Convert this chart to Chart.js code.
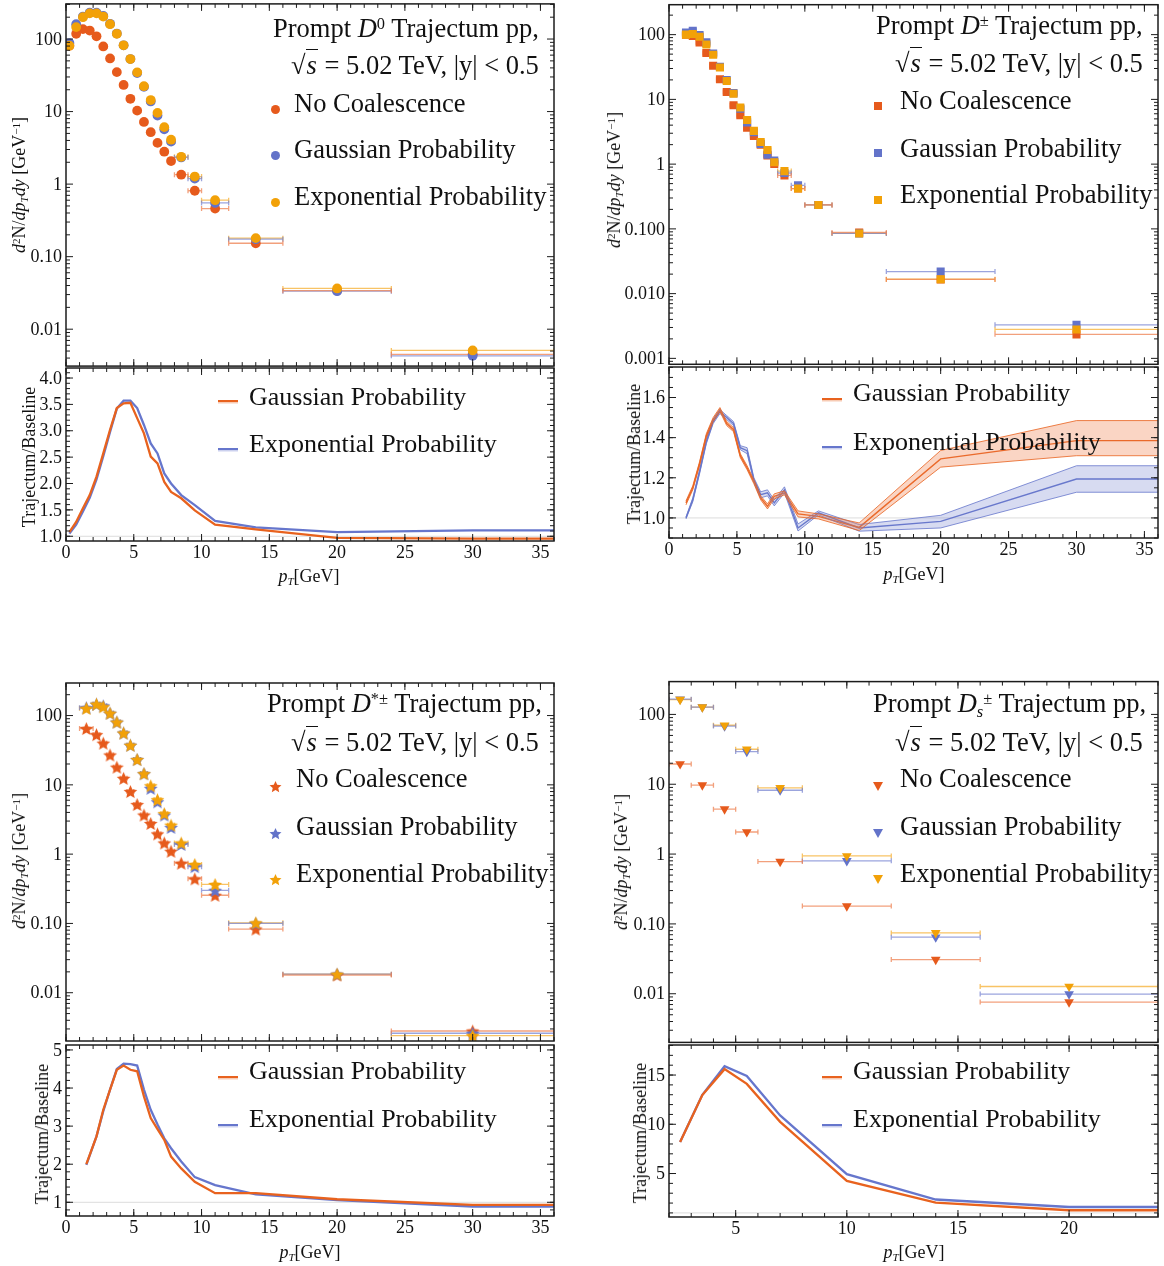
<!DOCTYPE html>
<html>
<head>
<meta charset="utf-8">
<script src="https://cdn.jsdelivr.net/npm/chart.js@4.4.1/dist/chart.umd.min.js"></script>
<style>
  body { margin: 0; background: #fff; }
  #root { position: relative; width: 1164px; height: 1266px; overflow: hidden;
          font-family: "Liberation Serif", serif; color: #111; background: #fff; }
  canvas { position: absolute; }
  .t { position: absolute; white-space: nowrap; }
  .t sup { font-size: 0.62em; vertical-align: 0.48em; line-height: 0; }
  .t sub { font-size: 0.62em; vertical-align: -0.28em; line-height: 0; }
  .ov { border-top: 1.5px solid #111; padding: 0 1px; }
  .mk { position: absolute; }
</style>
</head>
<body>
<div id="root"></div>
<script>
// ---------- data ----------
// Prompt D0
const d0Pt   = [0.25,0.75,1.25,1.75,2.25,2.75,3.25,3.75,4.25,4.75,5.25,5.75,6.25,6.75,7.25,7.75,8.5,9.5,11,14,20,30];
const d0PtLo = [0,0.5,1,1.5,2,2.5,3,3.5,4,4.5,5,5.5,6,6.5,7,7.5,8,9,10,12,16,24];
const d0PtHi = [0.5,1,1.5,2,2.5,3,3.5,4,4.5,5,5.5,6,6.5,7,7.5,8,9,10,12,16,24,36];
const d0NoCoal = [81,118,137,131,109,79,54,35,23.3,15,10.3,7.2,5.2,3.7,2.8,2.08,1.35,0.81,0.46,0.153,0.034,0.0045];
const d0Gauss  = [88,160,204,231,231,208,162,119,82,53,34,21.9,13.8,8.8,5.7,3.85,2.33,1.19,0.55,0.174,0.0334,0.0043];
const d0Expo   = [81,146,200,226,226,204,160,118,82,53,34.7,22.4,14.4,9.6,6.1,4.1,2.38,1.27,0.6,0.18,0.0365,0.0051];
const d0RatioPt    = [0.25,0.75,1.25,1.75,2.25,2.75,3.25,3.75,4.25,4.75,5.25,5.75,6.25,6.75,7.25,7.75,8.5,9.5,11,14,20,30,36];
const d0RatioGauss = [1.08,1.27,1.53,1.78,2.13,2.57,3.02,3.43,3.52,3.53,3.24,2.95,2.51,2.38,2.03,1.84,1.72,1.49,1.22,1.13,0.97,0.955,0.955];
const d0RatioExpo  = [1.05,1.22,1.47,1.73,2.08,2.52,2.98,3.42,3.57,3.57,3.43,3.11,2.76,2.57,2.19,2.0,1.78,1.59,1.29,1.17,1.08,1.11,1.11];

// Prompt D+-
const dpPt   = [1.25,1.75,2.25,2.75,3.25,3.75,4.25,4.75,5.25,5.75,6.25,6.75,7.25,7.75,8.5,9.5,11,14,20,30];
const dpPtLo = [1,1.5,2,2.5,3,3.5,4,4.5,5,5.5,6,6.5,7,7.5,8,9,10,12,16,24];
const dpPtHi = [1.5,2,2.5,3,3.5,4,4.5,5,5.5,6,6.5,7,7.5,8,9,10,12,16,24,36];
const dpNoCoal = [100,95,76,52,33,20.4,13,8.1,5.7,3.66,2.73,2.0,1.36,1.01,0.67,0.42,0.234,0.088,0.0166,0.00235];
const dpGauss  = [108,115,99,76,51,31.8,19.9,12.5,7.2,4.4,3.1,2.05,1.4,1.14,0.73,0.47,0.234,0.085,0.0219,0.0033];
const dpExpo   = [100,102,93,70.5,49,31,19.2,12.2,7.5,4.8,3.26,2.2,1.65,1.07,0.78,0.42,0.234,0.085,0.0167,0.0028];
const dpRatioPt      = [1.25,1.75,2.25,2.75,3.25,3.75,4.25,4.75,5.25,5.75,6.25,6.75,7.25,7.75,8.5,9.5,11,14,20,30,36];
const dpRatioGauss   = [1.075,1.15,1.27,1.41,1.49,1.54,1.47,1.44,1.31,1.25,1.18,1.10,1.058,1.108,1.125,1.02,1.008,0.953,1.294,1.385,1.385];
const dpRatioGaussLo = [1.065,1.14,1.26,1.40,1.48,1.53,1.46,1.43,1.30,1.24,1.17,1.09,1.045,1.095,1.115,1.005,0.995,0.937,1.253,1.31,1.31];
const dpRatioGaussHi = [1.085,1.16,1.28,1.42,1.50,1.55,1.48,1.45,1.32,1.26,1.19,1.11,1.07,1.12,1.135,1.035,1.02,0.975,1.336,1.485,1.485];
const dpRatioExpo    = [1.0,1.09,1.23,1.38,1.48,1.53,1.50,1.47,1.35,1.335,1.19,1.116,1.125,1.075,1.14,0.95,1.025,0.95,0.983,1.194,1.194];
const dpRatioExpoLo  = [0.995,1.08,1.22,1.37,1.47,1.52,1.49,1.46,1.34,1.32,1.18,1.10,1.11,1.06,1.125,0.935,1.015,0.934,0.95,1.128,1.128];
const dpRatioExpoHi  = [1.005,1.10,1.24,1.39,1.49,1.54,1.51,1.48,1.36,1.35,1.20,1.13,1.14,1.09,1.155,0.97,1.035,0.967,1.013,1.26,1.26];

// Prompt D*+-
const dstPt   = [1.5,2.25,2.75,3.25,3.75,4.25,4.75,5.25,5.75,6.25,6.75,7.25,7.75,8.5,9.5,11,14,20,30];
const dstPtLo = [1,2,2.5,3,3.5,4,4.5,5,5.5,6,6.5,7,7.5,8,9,10,12,16,24];
const dstPtHi = [2,2.5,3,3.5,4,4.5,5,5.5,6,6.5,7,7.5,8,9,10,12,16,24,36];
const dstNoCoal = [65,53,40,27,18,12.4,8.0,5.2,3.67,2.77,1.96,1.45,1.1,0.74,0.44,0.255,0.083,0.018,0.0028];
const dstGauss  = [130,146,138,108,80.5,56,37.3,23.2,14.5,8.9,5.7,3.67,2.43,1.38,0.66,0.30,0.10,0.0185,0.0026];
const dstExpo   = [127,146,134,108,80.5,56,37.3,23.2,14.5,9.7,6.1,3.84,2.62,1.45,0.71,0.365,0.102,0.0185,0.0024];
const dstRatioPt    = [1.5,2.25,2.75,3.25,3.75,4.25,4.75,5.25,5.75,6.25,6.75,7.25,7.75,8.5,9.5,11,14,20,30,36];
const dstRatioGauss = [2.0,2.73,3.43,3.96,4.48,4.59,4.48,4.44,3.78,3.21,2.92,2.64,2.2,1.89,1.54,1.24,1.24,1.08,0.93,0.93];
const dstRatioExpo  = [1.98,2.73,3.39,3.96,4.5,4.64,4.63,4.59,3.96,3.43,3.04,2.68,2.42,2.07,1.66,1.45,1.21,1.06,0.89,0.89];

// Prompt Ds+-
const dsPt   = [2.5,3.5,4.5,5.5,7,10,14,20];
const dsPtLo = [2,3,4,5,6,8,12,16];
const dsPtHi = [3,4,5,6,8,12,16,24];
const dsNoCoal = [19.5,9.7,4.4,2.07,0.78,0.18,0.0308,0.0076];
const dsGauss  = [165,127,68,29.4,8.2,0.8,0.0645,0.0099];
const dsExpo   = [163,127,70,31.7,8.9,0.94,0.0743,0.0127];
const dsRatioPt    = [2.5,3.5,4.5,5.5,7,10,14,20,24];
const dsRatioGauss = [8.2,12.97,15.6,14.1,10.25,4.25,2.05,1.27,1.27];
const dsRatioExpo  = [8.2,13.0,15.9,14.9,10.9,4.93,2.36,1.6,1.6];

// ticks
const xTicksWide  = [0,5,10,15,20,25,30,35];
const xLabelsWide = ['0','5','10','15','20','25','30','35'];
const xTicksDs  = [5,10,15,20];
const xLabelsDs = ['5','10','15','20'];
const yTicksTwo  = [0.01,0.1,1,10,100];
const yLabelsTwo = ['0.01','0.10','1','10','100'];
const yTicksDp  = [0.001,0.01,0.1,1,10,100];
const yLabelsDp = ['0.001','0.010','0.100','1','10','100'];
const rTicksD0  = [1,1.5,2,2.5,3,3.5,4];
const rLabelsD0 = ['1.0','1.5','2.0','2.5','3.0','3.5','4.0'];
const rTicksDp  = [1,1.2,1.4,1.6];
const rLabelsDp = ['1.0','1.2','1.4','1.6'];
const rTicksDst  = [1,2,3,4,5];
const rLabelsDst = ['1','2','3','4','5'];
const rTicksDs  = [5,10,15];
const rLabelsDs = ['5','10','15'];

// ---------- style ----------
const RED = '#E65A1C', BLUE = '#6373C9', GOLD = '#F2A108';
const RED_BAR = 'rgba(238,128,80,0.75)', BLUE_BAR = 'rgba(112,126,206,0.7)', GOLD_BAR = 'rgba(245,175,50,0.75)';
const LINE_GAUSS = '#E8621E', LINE_EXPO = '#6676CC';
const FRAME = '#1c1c1c';
const FONT = '"Liberation Serif", serif';

const root = document.getElementById('root');

function range(a, b, step) {
  const out = [];
  for (let v = a; v <= b + 1e-9; v += step) out.push(Math.round(v * 1000) / 1000);
  return out;
}
function logMinor(min, max) {
  const out = [];
  for (let e = Math.floor(Math.log10(min)); e <= Math.ceil(Math.log10(max)); e++)
    for (let k = 2; k <= 9; k++) {
      const v = k * Math.pow(10, e);
      if (v >= min && v <= max) out.push(v);
    }
  return out;
}

function starImage(color, r) {
  const c = document.createElement('canvas');
  const s = Math.ceil(r * 2 + 2);
  c.width = s; c.height = s;
  const g = c.getContext('2d');
  g.beginPath();
  for (let i = 0; i < 10; i++) {
    const rad = i % 2 ? r * 0.46 : r;
    const ang = -Math.PI / 2 + i * Math.PI / 5;
    g.lineTo(s / 2 + rad * Math.cos(ang), s / 2 + 0.7 + rad * Math.sin(ang));
  }
  g.closePath();
  g.fillStyle = color;
  g.fill();
  return c;
}

const SHAPES = {
  circle: { radius: 4.9, style: () => 'circle', rot: 0 },
  square: { radius: 5.7, style: () => 'rect', rot: 0 },
  star:   { radius: 7,   style: c => starImage(c, 7.2), rot: 0 },
  tri:    { radius: 5.6, style: () => 'triangle', rot: 180 }
};

// frame, ticks, labels, error bars, reference line
const framePlugin = {
  id: 'frame',
  beforeDatasetsDraw(chart, args, o) {
    const { ctx, chartArea: a } = chart;
    const xs = chart.scales.x, ys = chart.scales.y;
    ctx.save();
    ctx.beginPath();
    ctx.rect(a.left, a.top, a.right - a.left, a.bottom - a.top);
    ctx.clip();
    if (o.refLine != null) {
      const py = ys.getPixelForValue(o.refLine);
      ctx.strokeStyle = '#dcdcdc';
      ctx.lineWidth = 1;
      ctx.beginPath(); ctx.moveTo(a.left, py); ctx.lineTo(a.right, py); ctx.stroke();
    }
    chart.data.datasets.forEach(ds => {
      if (!ds.xLo) return;
      ctx.strokeStyle = ds.barColor;
      ctx.lineWidth = 1.3;
      ds.data.forEach((p, j) => {
        const py = ys.getPixelForValue(p.y);
        const x1 = xs.getPixelForValue(ds.xLo[j]), x2 = xs.getPixelForValue(ds.xHi[j]);
        ctx.beginPath();
        ctx.moveTo(x1, py); ctx.lineTo(x2, py);
        ctx.moveTo(x1, py - 2.5); ctx.lineTo(x1, py + 2.5);
        ctx.moveTo(x2, py - 2.5); ctx.lineTo(x2, py + 2.5);
        ctx.stroke();
      });
    });
    ctx.restore();
  },
  afterDraw(chart, args, o) {
    const { ctx, chartArea: a } = chart;
    const xs = chart.scales.x, ys = chart.scales.y;
    ctx.save();
    ctx.strokeStyle = FRAME;
    ctx.lineWidth = 1.5;
    ctx.strokeRect(a.left, a.top, a.right - a.left, a.bottom - a.top);
    ctx.lineWidth = 1;
    const seg = (x1, y1, x2, y2) => { ctx.beginPath(); ctx.moveTo(x1, y1); ctx.lineTo(x2, y2); ctx.stroke(); };
    const xt = (vals, len) => (vals || []).forEach(v => {
      const px = xs.getPixelForValue(v);
      if (px < a.left - 0.5 || px > a.right + 0.5) return;
      seg(px, a.bottom, px, a.bottom - len);
      seg(px, a.top, px, a.top + len);
    });
    const yt = (vals, len) => (vals || []).forEach(v => {
      const py = ys.getPixelForValue(v);
      if (py < a.top - 0.5 || py > a.bottom + 0.5) return;
      seg(a.left, py, a.left + len, py);
      seg(a.right, py, a.right - len, py);
    });
    xt(o.xMajor, 7); xt(o.xMinor, 4);
    yt(o.yMajor, 7); yt(o.yMinor, 4);
    ctx.fillStyle = '#111';
    ctx.font = '18px ' + FONT;
    if (o.xLabels) {
      ctx.textAlign = 'center'; ctx.textBaseline = 'top';
      o.xMajor.forEach((v, i) => ctx.fillText(o.xLabels[i], xs.getPixelForValue(v), a.bottom + 3));
    }
    if (o.yLabels) {
      ctx.textAlign = 'right'; ctx.textBaseline = 'middle';
      o.yMajor.forEach((v, i) => ctx.fillText(o.yLabels[i], a.left - 4, ys.getPixelForValue(v) + 1));
    }
    ctx.restore();
  }
};
Chart.register(framePlugin);

function makeCanvas(left, top, w, h) {
  const c = document.createElement('canvas');
  c.width = w; c.height = h;
  c.style.left = left + 'px'; c.style.top = top + 'px';
  c.style.width = w + 'px'; c.style.height = h + 'px';
  root.appendChild(c);
  return c;
}
function bareScale(type, min, max) {
  return {
    type, min, max, display: true,
    grid: { display: false }, border: { display: false }, ticks: { display: false },
    afterFit(s) { if (s.isHorizontal()) s.height = 0; else s.width = 0; }
  };
}
function baseOptions(pad, scales, frame) {
  return {
    responsive: false, animation: false, events: [],
    layout: { padding: pad },
    scales,
    plugins: { legend: { display: false }, tooltip: { enabled: false }, frame }
  };
}

function markerSet(pt, val, lo, hi, color, bar, shape, order) {
  const sh = SHAPES[shape];
  return {
    order,
    data: pt.map((x, i) => ({ x, y: val[i] })),
    xLo: lo, xHi: hi, barColor: bar,
    backgroundColor: color, borderColor: color, borderWidth: 0,
    pointRadius: sh.radius, pointStyle: sh.style(color), rotation: sh.rot,
    showLine: false
  };
}

function lineSet(xs, ys, color, width, extra) {
  return Object.assign({
    data: xs.map((x, i) => ({ x, y: ys[i] })),
    borderColor: color, borderWidth: width, pointRadius: 0, fill: false, tension: 0
  }, extra || {});
}

function topChart(P) {
  const g = P.box, padL = 62, padR = 8, padT = 3, padB = 3;
  const cv = makeCanvas(g.l - padL, g.t - padT, g.r - g.l + padL + padR, g.m - g.t + padT + padB);
  new Chart(cv, {
    type: 'scatter',
    data: { datasets: [
      markerSet(P.pt, P.expo, P.lo, P.hi, GOLD, GOLD_BAR, P.shape, 0),
      markerSet(P.pt, P.gauss, P.lo, P.hi, BLUE, BLUE_BAR, P.shape, 1),
      markerSet(P.pt, P.noCoal, P.lo, P.hi, RED, RED_BAR, P.shape, 2)
    ] },
    options: baseOptions({ left: padL, right: padR, top: padT, bottom: padB },
      { x: bareScale('linear', P.x[0], P.x[1]), y: bareScale('logarithmic', P.y[0], P.y[1]) },
      { xMajor: P.xTicks, xMinor: range(P.x[0], P.x[1], 1),
        yMajor: P.yTicks, yLabels: P.yLabels, yMinor: logMinor(P.y[0], P.y[1]) })
  });
}

function ratioChart(P) {
  const g = P.box, padL = 62, padR = 8, padT = 3, padB = 32;
  const cv = makeCanvas(g.l - padL, g.m - padT, g.r - g.l + padL + padR, g.b - g.m + padT + padB);
  const sets = [];
  if (P.rgLo) {
    sets.push(lineSet(P.rx, P.rgLo, LINE_GAUSS, 0.8));
    sets.push(lineSet(P.rx, P.rgHi, LINE_GAUSS, 0.8, { fill: '-1', backgroundColor: 'rgba(240,125,70,0.32)' }));
    sets.push(lineSet(P.rx, P.reLo, LINE_EXPO, 0.8));
    sets.push(lineSet(P.rx, P.reHi, LINE_EXPO, 0.8, { fill: '-1', backgroundColor: 'rgba(112,126,206,0.28)' }));
  }
  sets.push(lineSet(P.rx, P.rg, LINE_GAUSS, P.rgLo ? 1.4 : 2.3));
  sets.push(lineSet(P.rx, P.re, LINE_EXPO, P.rgLo ? 1.4 : 2.3));
  new Chart(cv, {
    type: 'line',
    data: { datasets: sets },
    options: baseOptions({ left: padL, right: padR, top: padT, bottom: padB },
      { x: bareScale('linear', P.x[0], P.x[1]), y: bareScale('linear', P.r[0], P.r[1]) },
      { xMajor: P.xTicks, xLabels: P.xLabels, xMinor: range(P.x[0], P.x[1], 1),
        yMajor: P.rTicks, yLabels: P.rLabels, yMinor: range(P.rTicks[0] - 5 * P.rMinor, P.r[1], P.rMinor),
        refLine: 1 })
  });
}

// ---------- text ----------
function textAt(html, x, baseline, size) {
  const d = document.createElement('div');
  d.className = 't';
  d.style.fontSize = size + 'px';
  d.style.lineHeight = size + 'px';
  d.style.left = x + 'px';
  d.style.top = (baseline - 0.8375 * size) + 'px';
  d.innerHTML = html;
  root.appendChild(d);
}
function textCenter(html, cx, cy, size, rotate) {
  const d = document.createElement('div');
  d.className = 't';
  d.style.fontSize = size + 'px';
  d.style.lineHeight = size + 'px';
  d.style.left = cx + 'px';
  d.style.top = cy + 'px';
  d.style.transform = 'translate(-50%,-50%)' + (rotate ? ' rotate(-90deg)' : '');
  d.innerHTML = html;
  root.appendChild(d);
}
function legendMarker(shape, color, x, y) {
  const d = document.createElement('div');
  d.className = 'mk';
  if (shape === 'circle') {
    Object.assign(d.style, { width: '9px', height: '9px', borderRadius: '50%', background: color, left: (x - 4.5) + 'px', top: (y - 4.5) + 'px' });
  } else if (shape === 'square') {
    Object.assign(d.style, { width: '8px', height: '8px', background: color, left: (x - 4) + 'px', top: (y - 4) + 'px' });
  } else if (shape === 'tri') {
    Object.assign(d.style, { width: 0, height: 0, borderLeft: '5px solid transparent', borderRight: '5px solid transparent',
      borderTop: '9px solid ' + color, left: (x - 5) + 'px', top: (y - 4.5) + 'px' });
  } else {
    const img = starImage(color, 6.3);
    img.style.position = 'absolute';
    img.style.left = (x - img.width / 2) + 'px';
    img.style.top = (y - img.height / 2) + 'px';
    root.appendChild(img);
    return;
  }
  root.appendChild(d);
}
function sampleLine(color, x, y) {
  const d = document.createElement('div');
  d.className = 'mk';
  Object.assign(d.style, { left: x + 'px', top: (y - 1) + 'px', width: '20px', height: '2px', background: color,
    boxShadow: '0 1.5px 0 ' + color + '55' });
  root.appendChild(d);
}

const Y_TITLE = '<i>d</i><sup>2</sup>N/<i>dp</i><sub><i>T</i></sub><i>dy</i> [GeV<sup>\u22121</sup>]';
const R_TITLE = 'Trajectum/Baseline';
const X_TITLE = '<i>p</i><sub><i>T</i></sub>[GeV]';
const SQRT_LINE = '\u221A<span class="ov"><i>s</i></span> = 5.02 TeV, |y| &lt; 0.5';

const panels = [
  { name: 'Prompt <i>D</i><sup>0</sup> Trajectum pp,', shape: 'circle',
    box: { l: 66, r: 554, t: 2, m: 368, b: 541 }, x: [0, 36], y: [0.0031, 305], r: [0.91, 4.19],
    pt: d0Pt, lo: d0PtLo, hi: d0PtHi, noCoal: d0NoCoal, gauss: d0Gauss, expo: d0Expo,
    rx: d0RatioPt, rg: d0RatioGauss, re: d0RatioExpo,
    xTicks: xTicksWide, xLabels: xLabelsWide, yTicks: yTicksTwo, yLabels: yLabelsTwo,
    rTicks: rTicksD0, rLabels: rLabelsD0, rMinor: 0.1,
    txt: { t1: [273, 36.7], t2: [291, 74], lx: 294, lb: [111.7, 158.3, 205], mx: 275, my: [109, 155.5, 202],
           rx: 249, rb: [405.5, 452.5], sx: 218, sy: [401, 449],
           yt: [19, 185], rt: [29, 457], xt: [309, 576] } },
  { name: 'Prompt <i>D</i><sup>\u00B1</sup> Trajectum pp,', shape: 'square',
    box: { l: 669, r: 1158, t: 2, m: 367, b: 538 }, x: [0, 36], y: [0.00081, 290], r: [0.90, 1.752],
    pt: dpPt, lo: dpPtLo, hi: dpPtHi, noCoal: dpNoCoal, gauss: dpGauss, expo: dpExpo,
    rx: dpRatioPt, rg: dpRatioGauss, re: dpRatioExpo,
    rgLo: dpRatioGaussLo, rgHi: dpRatioGaussHi, reLo: dpRatioExpoLo, reHi: dpRatioExpoHi,
    xTicks: xTicksWide, xLabels: xLabelsWide, yTicks: yTicksDp, yLabels: yLabelsDp,
    rTicks: rTicksDp, rLabels: rLabelsDp, rMinor: 0.05,
    txt: { t1: [876, 34.3], t2: [895, 71.7], lx: 900, lb: [109.3, 156.7, 203.3], mx: 878, my: [106, 153, 200],
           rx: 853, rb: [402, 451], sx: 822, sy: [399, 447],
           yt: [614, 180], rt: [634, 454], xt: [914, 574] } },
  { name: 'Prompt <i>D</i><sup>*\u00B1</sup> Trajectum pp,', shape: 'star',
    box: { l: 66, r: 554, t: 679, m: 1045, b: 1216 }, x: [0, 36], y: [0.00201, 295], r: [0.64, 5.13],
    pt: dstPt, lo: dstPtLo, hi: dstPtHi, noCoal: dstNoCoal, gauss: dstGauss, expo: dstExpo,
    rx: dstRatioPt, rg: dstRatioGauss, re: dstRatioExpo,
    xTicks: xTicksWide, xLabels: xLabelsWide, yTicks: yTicksTwo, yLabels: yLabelsTwo,
    rTicks: rTicksDst, rLabels: rLabelsDst, rMinor: 0.2,
    txt: { t1: [267, 711.7], t2: [291, 750.7], lx: 296, lb: [787.3, 835, 881.7], mx: 275, my: [786, 833, 879],
           rx: 249, rb: [1079.3, 1127.3], sx: 218, sy: [1077, 1125],
           yt: [19, 861], rt: [42, 1134], xt: [310, 1252] } },
  { name: 'Prompt <i>D</i><sub><i>s</i></sub><sup>\u00B1</sup> Trajectum pp,', shape: 'tri',
    box: { l: 669, r: 1158, t: 679, m: 1045, b: 1217 }, x: [2, 24], y: [0.00201, 295], r: [0.585, 18.05],
    pt: dsPt, lo: dsPtLo, hi: dsPtHi, noCoal: dsNoCoal, gauss: dsGauss, expo: dsExpo,
    rx: dsRatioPt, rg: dsRatioGauss, re: dsRatioExpo,
    xTicks: xTicksDs, xLabels: xLabelsDs, yTicks: yTicksTwo, yLabels: yLabelsTwo,
    rTicks: rTicksDs, rLabels: rLabelsDs, rMinor: 1,
    txt: { t1: [873, 711.7], t2: [895, 750.7], lx: 900, lb: [787.3, 835, 881.7], mx: 878, my: [786, 833, 879],
           rx: 853, rb: [1079.3, 1127.3], sx: 822, sy: [1077, 1125],
           yt: [621, 862], rt: [640, 1133], xt: [914, 1252] } }
];

panels.forEach(P => {
  topChart(P);
  ratioChart(P);
  const T = P.txt;
  textAt(P.name, T.t1[0], T.t1[1], 26.5);
  textAt(SQRT_LINE, T.t2[0], T.t2[1], 26.5);
  const names = ['No Coalescence', 'Gaussian Probability', 'Exponential Probability'];
  const cols = [RED, BLUE, GOLD];
  names.forEach((n, i) => {
    textAt(n, T.lx, T.lb[i], 26.5);
    legendMarker(P.shape, cols[i], T.mx, T.my[i]);
  });
  textAt('Gaussian Probability', T.rx, T.rb[0], 26);
  textAt('Exponential Probability', T.rx, T.rb[1], 26);
  sampleLine(LINE_GAUSS, T.sx, T.sy[0]);
  sampleLine(LINE_EXPO, T.sx, T.sy[1]);
  textCenter(Y_TITLE, T.yt[0], T.yt[1], 18, true);
  textCenter(R_TITLE, T.rt[0], T.rt[1], 18, true);
  textCenter(X_TITLE, T.xt[0], T.xt[1], 18, false);
});
</script>
</body>
</html>
